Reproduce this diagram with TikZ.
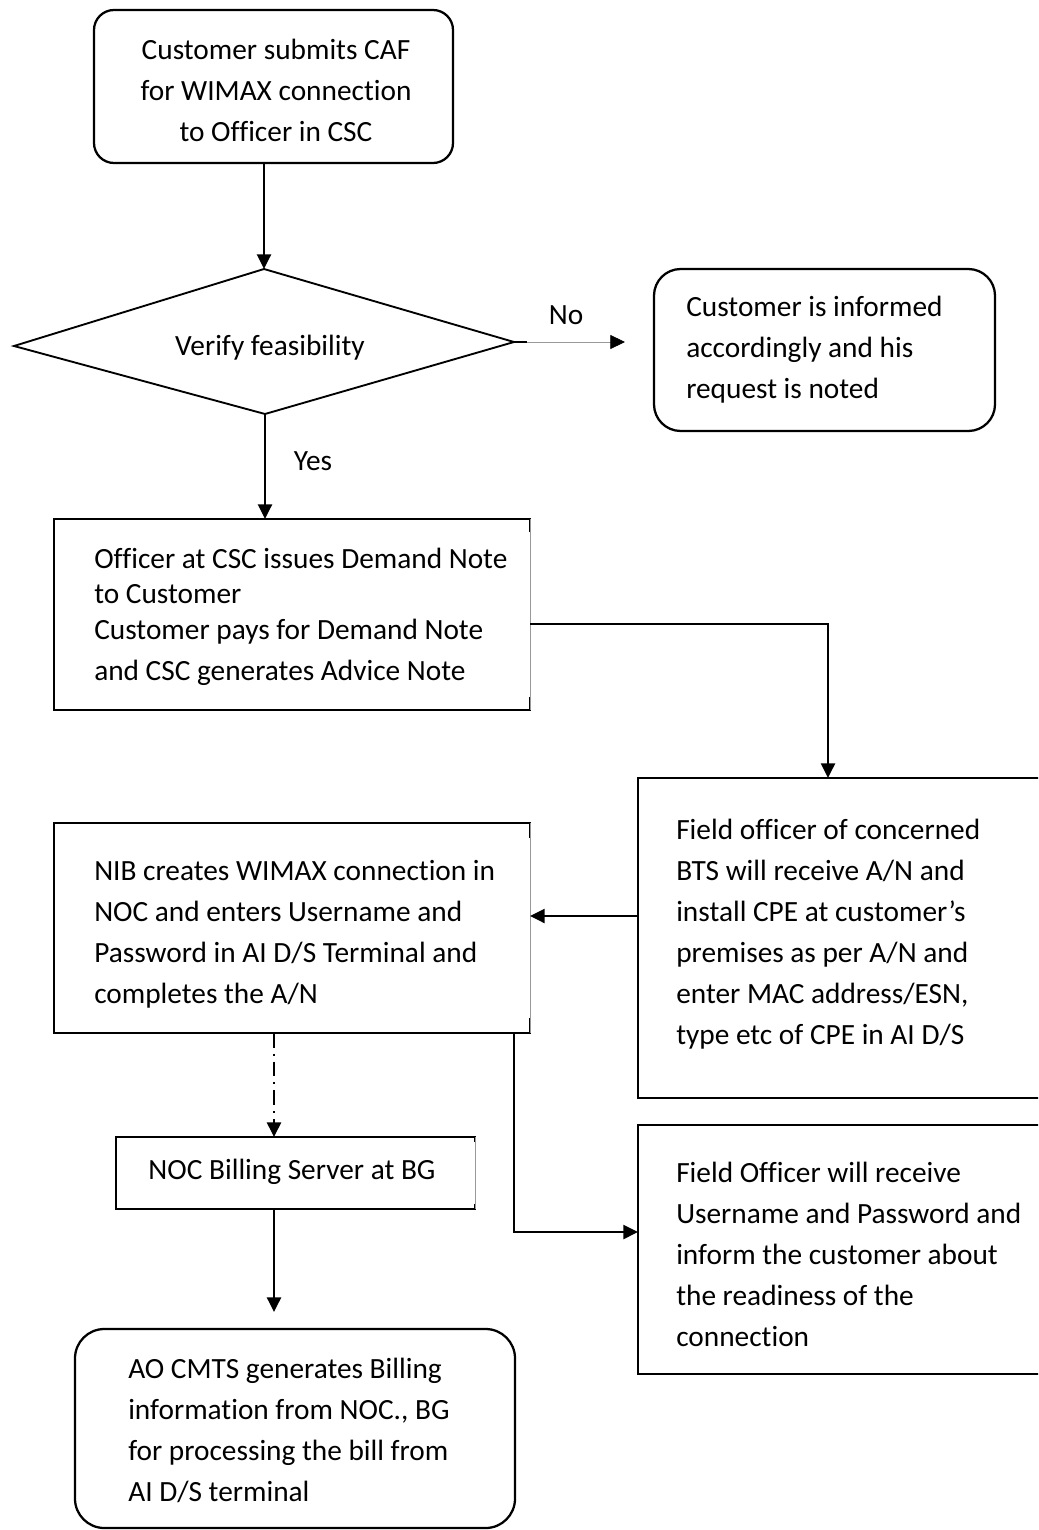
\documentclass[tikz,border=0pt]{standalone}
\usepackage{fontspec}
\setmainfont{Carlito}[Ligatures=NoCommon]
\usetikzlibrary{fit,arrows.meta,calc}
\begin{document}
\begin{tikzpicture}[x=0.75pt,y=-0.75pt,
 txt/.style={font=\fontsize{22}{30.75}\selectfont, inner sep=0pt},
 txtl/.style={txt, align=left, anchor=west},
 txtc/.style={txt, align=center},
 shp/.style={inner sep=0pt, outer sep=0pt, line width=1.7pt},
 rbox/.style={shp, draw, rounded corners=15pt},
 sbox/.style={shp, draw},
 obox/.style={shp},
 arr/.style={line width=1.8pt, -{Triangle[length=11pt,width=10.5pt]}},
 edgeline/.style={line width=1.7pt},
 thinedge/.style={line width=0.6pt, draw=black!40}]
\useasboundingbox (0,0) rectangle (1038,1530);
\fill[white] (0,0) rectangle (1038,1530);
\begin{scope}
\clip (0,0) rectangle (1038,1530);

% shapes
\node[rbox, fit={(94,10)(453,163)}] (b1) {};
\coordinate (dl) at (14,346);
\coordinate (dt) at (264,269);
\coordinate (dr) at (514,342);
\coordinate (db) at (265,414);
\draw[line width=1.4pt] (dl) -- (dt) -- (dr) -- (db) -- cycle;
\node[rbox, rounded corners=20pt, fit={(654,269)(995,431)}] (b2) {};
\node[obox, fit={(54,519)(530,710)}] (b3) {};
\node[sbox, fit={(638,778)(1060,1098)}] (b4) {};
\node[obox, fit={(54,823)(530,1033)}] (b5) {};
\node[obox, fit={(116,1137)(475,1209)}] (b6) {};
\node[rbox, rounded corners=22pt, fit={(75,1329)(515,1528)}] (b7) {};
\node[sbox, fit={(638,1125)(1060,1374)}] (b8) {};

% open-right boxes
\foreach \b/\s in {b3/13, b5/15, b6/5}{
  \draw[edgeline] ($(\b.north east)+(0,\s)$) -- (\b.north east) -- (\b.north west) -- (\b.south west) -- (\b.south east) -- ++(0,-\s);
  \draw[thinedge] (\b.north east) -- (\b.south east);
}

% texts
\node[txtc] (t1) at (276,90) {Customer submits CAF\\for WIMAX connection\\to Officer in CSC};
\node[txtc] (tv) at (270,348) {Verify feasibility};
\node[txt] (lno) at (566,315) {No};
\node[txtl] (t2) at (686,350) {Customer is informed\\accordingly and his\\request is noted};
\node[txt] (lyes) at (313,461) {Yes};
\node[txtl] (t3) at (94,617) {Officer at CSC issues Demand Note\\[-4.5pt]to Customer\\[-3.75pt]Customer pays for Demand Note\\and CSC generates Advice Note};
\node[txtl] (t4) at (676,934) {Field officer of concerned\\BTS will receive A/N and\\install CPE at customer’s\\premises as per A/N and\\enter MAC address/ESN,\\type etc of CPE in AI D/S};
\node[txtl] (t5) at (94,934) {NIB creates WIMAX connection in\\NOC and enters Username and\\Password in AI D/S Terminal and\\completes the A/N};
\node[txtc] (t6) at (292,1172) {NOC Billing Server at BG};
\node[txtl] (t7) at (128,1430) {AO CMTS generates Billing\\information from NOC., BG\\for processing the bill from\\AI D/S terminal};
\node[txtl] (t8) at (676,1254) {Field Officer will receive\\Username and Password and\\inform the customer about\\the readiness of the\\connection};

% connectors
\draw[arr] (b1.south -| dt) -- (dt);
\coordinate (noend) at (625,342);
\draw[edgeline] (dr) -- ++(13,0) coordinate (nostub);
\draw[line width=0.6pt, draw=black!40, -{Triangle[length=11pt,width=10.5pt,black]}] (nostub) -- (noend);
\draw[arr] (db) -- (b3.north -| db);
\coordinate (c34) at (828,624);
\draw[arr] (b3.east |- c34) -- (c34) -- (b4.north -| c34);
\coordinate (c45) at (0,916);
\draw[arr] (b4.west |- c45) -- (b5.east |- c45);
\coordinate (c56) at (274,0);
\draw[line width=1.9pt, dash pattern=on 11pt off 4.5pt on 1.5pt off 4.5pt, -{Triangle[length=11pt,width=10.5pt]}] (b5.south -| c56) -- (b6.north -| c56);
\coordinate (c67) at (274,1312);
\draw[arr] (b6.south -| c67) -- (c67);
\coordinate (c58) at (514,1232);
\draw[arr] (b5.south -| c58) -- (c58) -- (b8.west |- c58);
\end{scope}
\end{tikzpicture}
\end{document}
